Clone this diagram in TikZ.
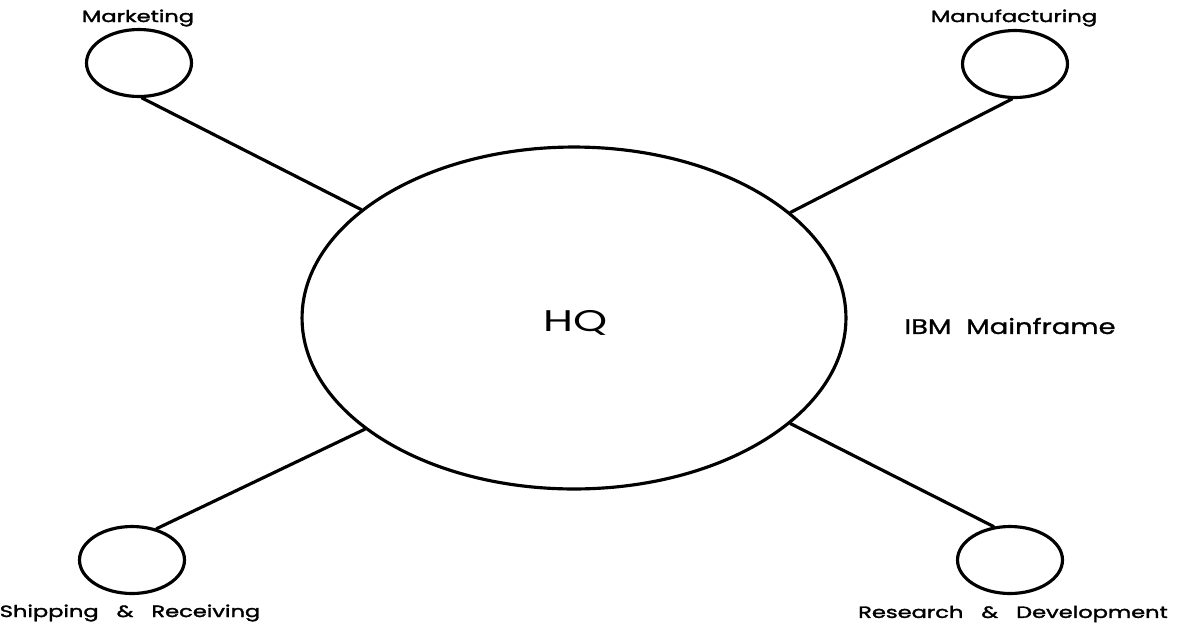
\documentclass[tikz,border=0pt]{standalone}
\usepackage{fontspec}
\setmainfont{Poppins}
\newfontfamily\sitefont[FakeStretch=1.38,FakeBold=2]{Poppins}
\newfontfamily\hqfont[FakeStretch=1.45]{Poppins}
\newfontfamily\ibmfont[FakeStretch=1.3,FakeBold=1.2]{Poppins}
\usetikzlibrary{shapes.geometric}
\tikzset{
  hubnode/.style={ellipse,draw,line width=1.8pt,minimum width=10.88cm,minimum height=6.84cm,inner sep=0pt},
  sitenode/.style={ellipse,draw,line width=1.8pt,minimum width=2.1cm,minimum height=1.34cm,inner sep=0pt},
  sitelabel/.style={inner sep=0pt,font=\sitefont\fontsize{9.3}{10}\selectfont},
  link/.style={line width=1.8pt},
  every picture/.style={line cap=round,line join=round}
}
\begin{document}
\begin{tikzpicture}[x=0.02cm, y=-0.02cm]
    \useasboundingbox (0,0) rectangle (1182,626);
    \node[hubnode] (hq) at (574,318) {};
    \node[inner sep=0pt,font=\hqfont\fontsize{17}{20}\selectfont] (hqtxt) at (576,323) {HQ};
    \node[inner sep=0pt,font=\ibmfont\fontsize{12}{14}\selectfont] (ibm) at (1010,326) {IBM\ \ Mainframe};

    \node[sitenode] (mkt) at (139,63) {};
    \node[sitenode] (mfg) at (1015,64) {};
    \node[sitenode] (shp) at (132,560) {};
    \node[sitenode] (rnd) at (1010,560) {};

    \node[sitelabel] (mktlbl) at (138,18) {Marketing};
    \node[sitelabel] (mfglbl) at (1014,18) {Manufacturing};
    \node[sitelabel] (shplbl) at (130,613) {Shipping\ \ \ \&\ \ \ Receiving};
    \node[sitelabel] (rndlbl) at (1013,614) {Research\ \ \ \&\ \ \ Development};

    \draw[link] (mkt.-85) -- (hq.153)
                (mfg.-95) -- (hq.26)
                (shp.52) -- (hq.208)
                (rnd.116) -- (hq.-26);
  \end{tikzpicture}
\end{document}
